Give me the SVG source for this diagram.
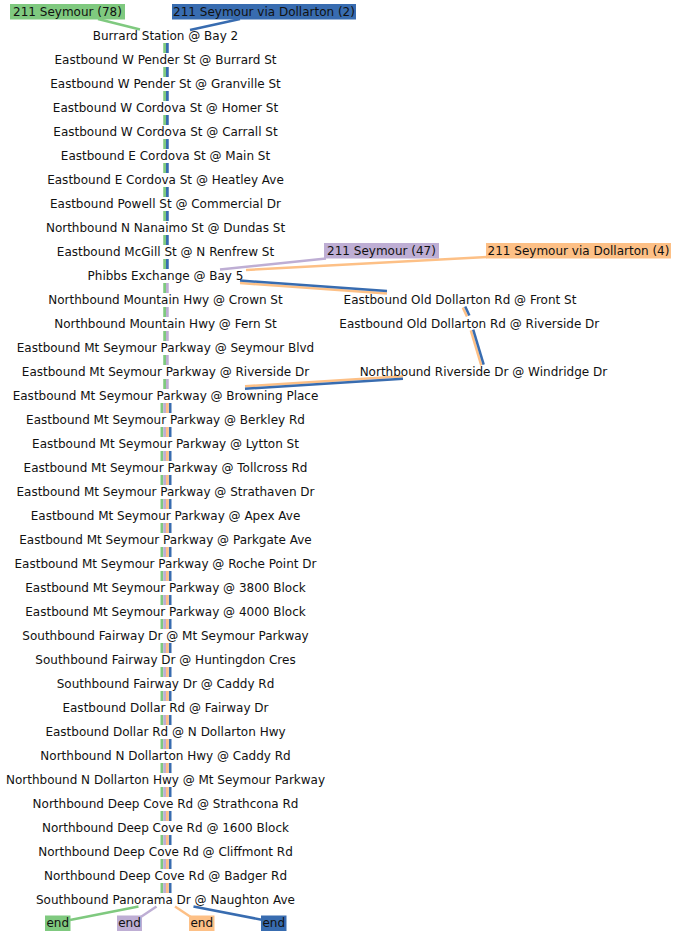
<svg xmlns="http://www.w3.org/2000/svg" width="677" height="936" viewBox="0 0 677 936">
<style>
text{font-family:"DejaVu Sans","Liberation Sans",sans-serif;font-size:12px;fill:#111;dominant-baseline:central;text-anchor:middle;transform:translate(0px,0.8px)}
.g{stroke:#7fc97f}.p{stroke:#beaed4}.o{stroke:#fdc086}.b{stroke:#386cb0}
.s{fill:none;stroke-width:2.75}
.c{fill:none;stroke-width:2.5}
.bg{fill:#7fc97f}.bp{fill:#beaed4}.bo{fill:#fdc086}.bb{fill:#386cb0}
</style>
<rect width="677" height="936" fill="#fff"/>
<g id="connectors">
<path class="s g" d="M164.625 43V53M164.625 67V77M164.625 91V101M164.625 115V125M164.625 139V149M164.625 163V173M164.625 187V197M164.625 211V221M164.625 235V245M164.625 259V269M164.625 283V293M164.625 307V317M164.625 331V341M164.625 355V365M164.625 379V389M161.875 403V413M161.875 427V437M161.875 451V461M161.875 475V485M161.875 499V509M161.875 523V533M161.875 547V557M161.875 571V581M161.875 595V605M161.875 619V629M161.875 643V653M161.875 667V677M161.875 691V701M161.875 715V725M161.875 739V749M161.875 763V773M161.875 787V797M161.875 811V821M161.875 835V845M161.875 859V869M161.875 883V893"/>
<path class="s b" d="M167.375 43V53M167.375 67V77M167.375 91V101M167.375 115V125M167.375 139V149M167.375 163V173M167.375 187V197M167.375 211V221M167.375 235V245M167.375 259V269M170.125 403V413M170.125 427V437M170.125 451V461M170.125 475V485M170.125 499V509M170.125 523V533M170.125 547V557M170.125 571V581M170.125 595V605M170.125 619V629M170.125 643V653M170.125 667V677M170.125 691V701M170.125 715V725M170.125 739V749M170.125 763V773M170.125 787V797M170.125 811V821M170.125 835V845M170.125 859V869M170.125 883V893"/>
<path class="s p" d="M167.375 283V293M167.375 307V317M167.375 331V341M167.375 355V365M167.375 379V389M164.625 403V413M164.625 427V437M164.625 451V461M164.625 475V485M164.625 499V509M164.625 523V533M164.625 547V557M164.625 571V581M164.625 595V605M164.625 619V629M164.625 643V653M164.625 667V677M164.625 691V701M164.625 715V725M164.625 739V749M164.625 763V773M164.625 787V797M164.625 811V821M164.625 835V845M164.625 859V869M164.625 883V893"/>
<path class="s o" d="M167.375 403V413M167.375 427V437M167.375 451V461M167.375 475V485M167.375 499V509M167.375 523V533M167.375 547V557M167.375 571V581M167.375 595V605M167.375 619V629M167.375 643V653M167.375 667V677M167.375 691V701M167.375 715V725M167.375 739V749M167.375 763V773M167.375 787V797M167.375 811V821M167.375 835V845M167.375 859V869M167.375 883V893"/>
<path class="c g" d="M98 19L140 29.5"/>
<path class="c b" d="M240 19L190 30"/>
<path class="c p" d="M326 258.5L220 269.5"/>
<path class="c o" d="M487 257L246 270"/>
<path class="c o" d="M240 283L387 293.5"/>
<path class="c b" d="M240 280.5L387 291"/>
<path class="c o" d="M462.8 307.4L467 316.6"/>
<path class="c b" d="M465.2 306.4L469.4 315.6"/>
<path class="c o" d="M470.8 330.3L481.3 365.3"/>
<path class="c b" d="M473.2 329.7L483.7 364.7"/>
<path class="c o" d="M403 376.3L245 386.3"/>
<path class="c b" d="M403 378.8L245 388.8"/>
<path class="c g" d="M138.5 906.5L70 920"/>
<path class="c p" d="M156.5 906.5L140 917.5"/>
<path class="c o" d="M175 906.5L191.5 917.5"/>
<path class="c b" d="M193.5 906.5L263 920"/>
</g>
<g id="route-78-label"><rect class="bg" x="10" y="4" width="115" height="15.5"/><text x="67.5" y="11">211 Seymour (78)</text></g>
<g id="route-2-label"><rect class="bb" x="172" y="4" width="184" height="15.5"/><text x="264" y="11">211 Seymour via Dollarton (2)</text></g>
<g id="route-47-label"><rect class="bp" x="324" y="243" width="115" height="15.5"/><text x="381.5" y="250">211 Seymour (47)</text></g>
<g id="route-4-label"><rect class="bo" x="486" y="243" width="185" height="15.5"/><text x="578.5" y="250">211 Seymour via Dollarton (4)</text></g>
<g id="stop-0"><text x="165.5" y="35">Burrard Station @ Bay 2</text></g>
<g id="stop-1"><text x="165.5" y="59">Eastbound W Pender St @ Burrard St</text></g>
<g id="stop-2"><text x="165.5" y="83">Eastbound W Pender St @ Granville St</text></g>
<g id="stop-3"><text x="165.5" y="107">Eastbound W Cordova St @ Homer St</text></g>
<g id="stop-4"><text x="165.5" y="131">Eastbound W Cordova St @ Carrall St</text></g>
<g id="stop-5"><text x="165.5" y="155">Eastbound E Cordova St @ Main St</text></g>
<g id="stop-6"><text x="165.5" y="179">Eastbound E Cordova St @ Heatley Ave</text></g>
<g id="stop-7"><text x="165.5" y="203">Eastbound Powell St @ Commercial Dr</text></g>
<g id="stop-8"><text x="165.5" y="227">Northbound N Nanaimo St @ Dundas St</text></g>
<g id="stop-9"><text x="165.5" y="251">Eastbound McGill St @ N Renfrew St</text></g>
<g id="stop-10"><text x="165.5" y="275">Phibbs Exchange @ Bay 5</text></g>
<g id="stop-11"><text x="165.5" y="299">Northbound Mountain Hwy @ Crown St</text></g>
<g id="stop-12"><text x="165.5" y="323">Northbound Mountain Hwy @ Fern St</text></g>
<g id="stop-13"><text x="165.5" y="347">Eastbound Mt Seymour Parkway @ Seymour Blvd</text></g>
<g id="stop-14"><text x="165.5" y="371">Eastbound Mt Seymour Parkway @ Riverside Dr</text></g>
<g id="stop-d1"><text x="460" y="299">Eastbound Old Dollarton Rd @ Front St</text></g>
<g id="stop-d2"><text x="469.3" y="323">Eastbound Old Dollarton Rd @ Riverside Dr</text></g>
<g id="stop-d3"><text x="483.4" y="371">Northbound Riverside Dr @ Windridge Dr</text></g>
<g id="stop-15"><text x="165.5" y="395">Eastbound Mt Seymour Parkway @ Browning Place</text></g>
<g id="stop-16"><text x="165.5" y="419">Eastbound Mt Seymour Parkway @ Berkley Rd</text></g>
<g id="stop-17"><text x="165.5" y="443">Eastbound Mt Seymour Parkway @ Lytton St</text></g>
<g id="stop-18"><text x="165.5" y="467">Eastbound Mt Seymour Parkway @ Tollcross Rd</text></g>
<g id="stop-19"><text x="165.5" y="491">Eastbound Mt Seymour Parkway @ Strathaven Dr</text></g>
<g id="stop-20"><text x="165.5" y="515">Eastbound Mt Seymour Parkway @ Apex Ave</text></g>
<g id="stop-21"><text x="165.5" y="539">Eastbound Mt Seymour Parkway @ Parkgate Ave</text></g>
<g id="stop-22"><text x="165.5" y="563">Eastbound Mt Seymour Parkway @ Roche Point Dr</text></g>
<g id="stop-23"><text x="165.5" y="587">Eastbound Mt Seymour Parkway @ 3800 Block</text></g>
<g id="stop-24"><text x="165.5" y="611">Eastbound Mt Seymour Parkway @ 4000 Block</text></g>
<g id="stop-25"><text x="165.5" y="635">Southbound Fairway Dr @ Mt Seymour Parkway</text></g>
<g id="stop-26"><text x="165.5" y="659">Southbound Fairway Dr @ Huntingdon Cres</text></g>
<g id="stop-27"><text x="165.5" y="683">Southbound Fairway Dr @ Caddy Rd</text></g>
<g id="stop-28"><text x="165.5" y="707">Eastbound Dollar Rd @ Fairway Dr</text></g>
<g id="stop-29"><text x="165.5" y="731">Eastbound Dollar Rd @ N Dollarton Hwy</text></g>
<g id="stop-30"><text x="165.5" y="755">Northbound N Dollarton Hwy @ Caddy Rd</text></g>
<g id="stop-31"><text x="165.5" y="779">Northbound N Dollarton Hwy @ Mt Seymour Parkway</text></g>
<g id="stop-32"><text x="165.5" y="803">Northbound Deep Cove Rd @ Strathcona Rd</text></g>
<g id="stop-33"><text x="165.5" y="827">Northbound Deep Cove Rd @ 1600 Block</text></g>
<g id="stop-34"><text x="165.5" y="851">Northbound Deep Cove Rd @ Cliffmont Rd</text></g>
<g id="stop-35"><text x="165.5" y="875">Northbound Deep Cove Rd @ Badger Rd</text></g>
<g id="stop-36"><text x="165.5" y="899">Southbound Panorama Dr @ Naughton Ave</text></g>
<g id="end-78"><rect class="bg" x="45" y="915.5" width="25.5" height="15.5"/><text x="57.75" y="922.5">end</text></g>
<g id="end-47"><rect class="bp" x="117" y="915.5" width="25" height="15.5"/><text x="129.5" y="922.5">end</text></g>
<g id="end-4"><rect class="bo" x="189" y="915.5" width="25.5" height="15.5"/><text x="201.75" y="922.5">end</text></g>
<g id="end-2"><rect class="bb" x="261" y="915.5" width="25.5" height="15.5"/><text x="273.75" y="922.5">end</text></g>
</svg>
